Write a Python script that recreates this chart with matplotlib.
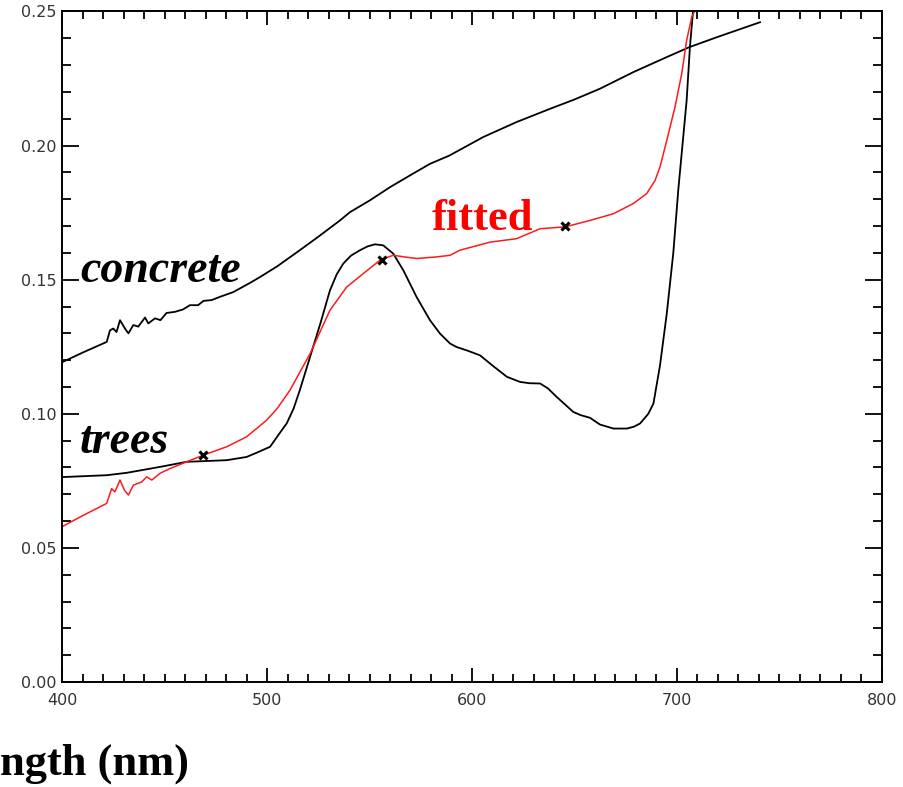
import matplotlib
matplotlib.use("Agg")
import matplotlib.pyplot as plt
from matplotlib.ticker import MultipleLocator

# spectra (wavelength nm, reflectance)
concrete_wl = [400, 410, 421.8, 423.4, 425, 426.6, 428.3, 430.7, 432.4, 434.8, 437.2,
               440.5, 442.1, 445.4, 448, 451, 455, 459, 462.4, 466.4, 469, 473, 477,
               483.6, 491.7, 496.6, 505, 516, 525, 535.6, 540.5, 550, 560, 570, 579.5,
               589, 605.5, 621.8, 638, 650, 662.4, 678.7, 695, 706, 719.4, 740.5]
concrete_r = [0.1192, 0.1228, 0.1268, 0.1311, 0.1318, 0.1305, 0.1349, 0.1318, 0.1300,
              0.1331, 0.1325, 0.1359, 0.1337, 0.1356, 0.1349, 0.1376, 0.1380, 0.1389,
              0.1405, 0.1405, 0.1421, 0.1424, 0.1436, 0.1454, 0.1488, 0.1510, 0.1550,
              0.1610, 0.1660, 0.1721, 0.1752, 0.1795, 0.1845, 0.1890, 0.1932, 0.1963,
              0.2032, 0.2088, 0.2137, 0.2172, 0.2212, 0.2274, 0.2330, 0.2367, 0.2404,
              0.2460]

trees_wl = [400, 421.8, 431.6, 447.8, 460.8, 480.3, 490, 495, 501.5, 506, 509.6, 513,
            516, 521, 526, 530.7, 534, 537.2, 541, 545.4, 549, 552.7, 556.7, 561.6,
            566.5, 573, 579.5, 584.4, 589.3, 592.5, 598, 603.9, 610, 617, 623.4, 628,
            633.2, 637, 641.3, 649.4, 653, 657.6, 662.4, 669, 675.5, 679, 682, 686,
            688.5, 691.7, 695, 698.2, 700.6, 704.7, 706.3, 707.8]
trees_r = [0.0764, 0.0771, 0.0780, 0.0802, 0.0821, 0.0827, 0.0839, 0.0855, 0.0877,
           0.0926, 0.0964, 0.1020, 0.1088, 0.1212, 0.1336, 0.1460, 0.1520, 0.1560,
           0.1590, 0.1610, 0.1624, 0.1632, 0.1628, 0.1597, 0.1535, 0.1435, 0.1349,
           0.1299, 0.1262, 0.1249, 0.1235, 0.1218, 0.1180, 0.1138, 0.1119, 0.1114,
           0.1113, 0.1095, 0.1063, 0.1007, 0.0995, 0.0985, 0.0960, 0.0945, 0.0945,
           0.0952, 0.0964, 0.1000, 0.1038, 0.1180, 0.1373, 0.1600, 0.1833, 0.2168,
           0.2367, 0.2500]

fitted_wl = [400, 410, 421.8, 424.2, 425.8, 428.3, 430.5, 432.4, 434.8, 438.9, 441.3,
             443.8, 447.8, 452.7, 460.8, 469, 480.3, 490, 499.8, 505, 511.2, 521, 530.7,
             538.9, 547, 555.5, 561.6, 567, 573, 582.8, 589.3, 594.1, 608.8, 621.8,
             633.2, 645.4, 657.6, 669, 678.7, 685.2, 689.3, 691.7, 695, 699, 702.3,
             704.7, 707.2, 708.5]
fitted_r = [0.0579, 0.0620, 0.0666, 0.0721, 0.0709, 0.0753, 0.0715, 0.0697, 0.0734,
            0.0746, 0.0765, 0.0753, 0.0778, 0.0796, 0.0821, 0.0846, 0.0877, 0.0914,
            0.0976, 0.1020, 0.1088, 0.1224, 0.1386, 0.1473, 0.1523, 0.1575, 0.1591,
            0.1585, 0.1579, 0.1585, 0.1591, 0.1610, 0.1640, 0.1653, 0.1690, 0.1697,
            0.1721, 0.1746, 0.1784, 0.1821, 0.1870, 0.1920, 0.2019, 0.2143, 0.2268,
            0.2392, 0.2479, 0.2500]

marker_wl = [468.9, 555.9, 645.4]
marker_r = [0.0846, 0.1575, 0.1699]

fig = plt.figure(figsize=(9.04, 7.87), dpi=100)
ax = fig.add_axes([62 / 904, 105 / 787, 820 / 904, 670.5 / 787])

ax.plot(concrete_wl, concrete_r, color="black", lw=1.3)
ax.plot(trees_wl, trees_r, color="black", lw=1.3)
ax.plot(fitted_wl, fitted_r, color="#ff1a1a", lw=1.1)
ax.plot(marker_wl, marker_r, ls="none", marker="x", ms=6, mew=2.2, color="black")

ax.set_xlim(400, 800)
ax.set_ylim(0, 0.25)
ax.xaxis.set_major_locator(MultipleLocator(100))
ax.xaxis.set_minor_locator(MultipleLocator(10))
ax.yaxis.set_major_locator(MultipleLocator(0.05))
ax.yaxis.set_minor_locator(MultipleLocator(0.01))
ax.yaxis.set_major_formatter(lambda v, p: f"{v:.2f}")
ax.tick_params(which="both", direction="in", top=True, right=True, width=1.3,
               labelsize=11.5, labelcolor="#333333")
ax.tick_params(axis="x", which="major", length=10, pad=8)
ax.tick_params(axis="x", which="minor", length=5.5)
ax.tick_params(axis="y", which="major", length=12, pad=4)
ax.tick_params(axis="y", which="minor", length=6.3)
for s in ax.spines.values():
    s.set_linewidth(1.4)

serif = ["Liberation Serif", "DejaVu Serif"]
ax.text(408.8, 0.149, "concrete", family=serif, style="italic", weight="bold",
        fontsize=33, color="black")
ax.text(408.8, 0.0852, "trees", family=serif, style="italic", weight="bold",
        fontsize=33, color="black")
ax.text(580.3, 0.1684, "fitted", family=serif, weight="bold", fontsize=32,
        color="#ff0000")

# axis title appears cut at the left edge in the reference; show the visible part
fig.text(0.0, 12 / 787, "ngth (nm)", family=serif, weight="bold",
         fontsize=32, ha="left", va="baseline")

fig.savefig("out.png", dpi=100)
